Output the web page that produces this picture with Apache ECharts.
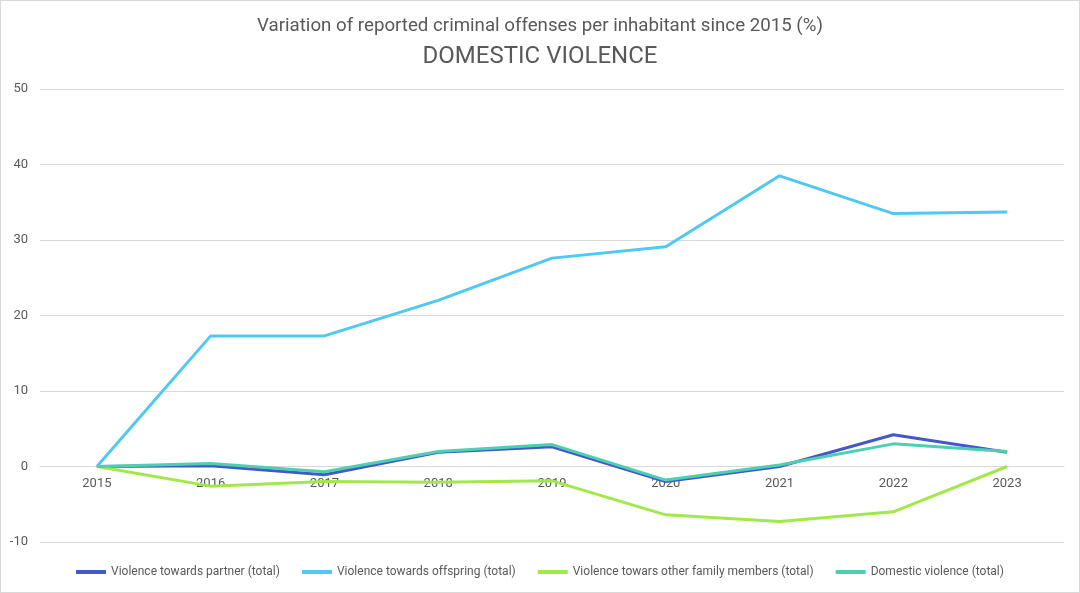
<!DOCTYPE html>
<html>
<head>
<meta charset="utf-8">
<script src="https://cdn.jsdelivr.net/npm/echarts@6/dist/echarts.min.js"></script>
<style>
  html, body { margin: 0; padding: 0; background: #fff; }
  #main { width: 1078px; height: 591px; border: 1px solid #d9d9d9; }
</style>
</head>
<body>
<div id="main"></div>
<script type="text/javascript">
    // data
    var years = ['2015', '2016', '2017', '2018', '2019', '2020', '2021', '2022', '2023'];
    var partner = [0, 0.1, -1.1, 1.9, 2.6, -2.0, 0, 4.2, 1.9];
    var offspring = [0, 17.3, 17.3, 22.0, 27.6, 29.1, 38.5, 33.5, 33.7];
    var otherFamily = [0, -2.6, -2.0, -2.1, -1.9, -6.4, -7.3, -6.0, 0];
    var domestic = [0, 0.4, -0.7, 2.0, 2.9, -1.8, 0.2, 3.0, 2.0];

    var textColor = '#595959';
    var font = 'Roboto';

    var myChart = echarts.init(document.getElementById('main'));

    function line(name, data, color) {
        return {
            name: name,
            type: 'line',
            data: data,
            symbol: 'none',
            lineStyle: { color: color, width: 3 },
            itemStyle: { color: color }
        };
    }

    // plot is 453px high for 60 units, zero sits 10 units above the bottom
    var zeroOffset = -453 / 6;

    var option = {
        textStyle: { fontFamily: font },
        title: [{
            text: 'Variation of reported criminal offenses per inhabitant since 2015 (%)',
            left: 'center',
            top: 11,
            textStyle: { fontSize: 18.7, fontWeight: 'normal', color: textColor, fontFamily: font }
        }, {
            text: 'DOMESTIC VIOLENCE',
            left: 'center',
            top: 39,
            textStyle: { fontSize: 24, fontWeight: 'normal', color: textColor, fontFamily: font }
        }],
        legend: {
            bottom: 9,
            left: 'center',
            itemWidth: 30,
            itemHeight: 4,
            itemGap: 22,
            icon: 'rect',
            textStyle: { fontSize: 12, color: textColor },
            data: ['Violence towards partner (total)', 'Violence towards offspring (total)',
                   'Violence towars other family members (total)', 'Domestic violence (total)']
        },
        grid: { left: 39, right: 15, top: 88, bottom: 50 },
        xAxis: {
            type: 'category',
            data: years,
            boundaryGap: true,
            offset: zeroOffset,
            axisLine: { onZero: false, lineStyle: { color: '#d9d9d9', width: 1 } },
            axisTick: { show: false },
            axisLabel: { color: textColor, fontSize: 13, margin: 11 }
        },
        yAxis: {
            type: 'value',
            min: -10,
            max: 50,
            interval: 10,
            axisLabel: { color: textColor, fontSize: 13, margin: 12 },
            splitLine: { lineStyle: { color: '#d9d9d9' } },
            axisLine: { show: false },
            axisTick: { show: false }
        },
        series: [
            line('Violence towards partner (total)', partner, '#4458c6'),
            line('Violence towards offspring (total)', offspring, '#4fc8f2'),
            line('Violence towars other family members (total)', otherFamily, '#a3e84b'),
            line('Domestic violence (total)', domestic, '#4ecfb1')
        ]
    };

    myChart.setOption(option);
</script>
</body>
</html>
